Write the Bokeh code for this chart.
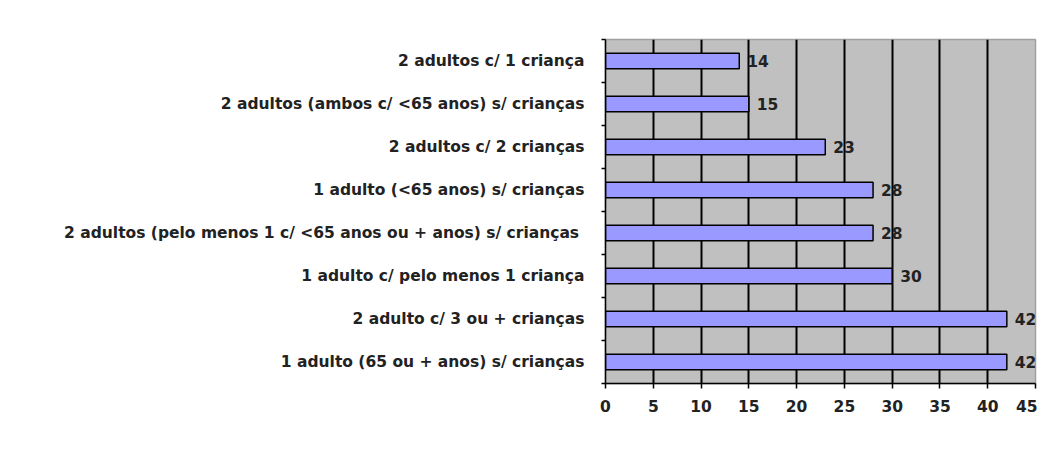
from bokeh.plotting import figure
from bokeh.models import ColumnDataSource, FixedTicker, Label, LabelSet
from bokeh.core.properties import value
from bokeh.embed import file_html
from bokeh.resources import INLINE

categories = [
    "2 adultos c/ 1 criança",
    "2 adultos (ambos c/ <65 anos) s/ crianças",
    "2 adultos c/ 2 crianças",
    "1 adulto (<65 anos) s/ crianças",
    "2 adultos (pelo menos 1  c/ <65 anos ou + anos) s/ crianças",
    "1 adulto c/ pelo menos 1 criança",
    "2 adulto c/ 3 ou + crianças",
    "1 adulto (65 ou + anos) s/ crianças",
]
values = [14, 15, 23, 28, 28, 30, 42, 42]
x_ticks = [0, 5, 10, 15, 20, 25, 30, 35, 40, 45]
title_text = "(%) por tipo de agregado"

n = len(categories)
ypos = [n - i - 0.5 for i in range(n)]
src = ColumnDataSource(dict(y=ypos, v=values, lab=[str(v) for v in values], cat=categories))

FONT = "DejaVu Sans"
FS = "15.5px"
TXT = "#222222"
W, H = 1037, 442
FL, FT, FW, FH = 605, 39, 430, 344   # frame left/top/width/height (canvas px)

p = figure(width=W, height=H, output_backend="svg", toolbar_location=None,
           x_range=(0, 45), y_range=(0, n),
           frame_width=FW, frame_height=FH,
           min_border_left=FL, min_border_right=W - FL - FW, min_border_top=FT,
           min_border_bottom=H - FT - FH)
p.background_fill_color = "#C0C0C0"
p.border_fill_color = "white"
p.outline_line_color = "#A0A0A0"
p.outline_line_width = 1.5

p.hbar(y="y", right="v", left=0, height=0.36, source=src,
       fill_color="#9999FF", line_color="black", line_width=1.5)

labels = LabelSet(x="v", y="y", text="lab", source=src, x_offset=8,
                  text_baseline="middle", text_align="left",
                  text_font=value(FONT), text_font_style="bold", text_font_size=FS,
                  text_color=TXT)
p.add_layout(labels)

# x axis
p.xaxis.ticker = FixedTicker(ticks=x_ticks)
p.xaxis.axis_line_color = "black"
p.xaxis.axis_line_width = 1.5
p.xaxis.major_tick_line_color = "black"
p.xaxis.major_tick_line_width = 1.5
p.xaxis.major_tick_out = 5
p.xaxis.major_tick_in = 0
p.xaxis.minor_tick_line_color = None
p.xaxis.major_label_text_font = FONT
p.xaxis.major_label_text_font_style = "bold"
p.xaxis.major_label_text_font_size = FS
p.xaxis.major_label_text_color = TXT
p.xaxis.major_label_standoff = 11

# y axis
p.yaxis.ticker = FixedTicker(ticks=ypos, minor_ticks=list(range(n + 1)))
p.yaxis.major_label_overrides = {y: c for y, c in zip(ypos, categories)}
p.yaxis.axis_line_color = "black"
p.yaxis.axis_line_width = 1.5
p.yaxis.major_tick_line_color = None
p.yaxis.major_tick_out = 0
p.yaxis.major_tick_in = 0
p.yaxis.minor_tick_line_color = "black"
p.yaxis.minor_tick_line_width = 1.5
p.yaxis.minor_tick_out = 4
p.yaxis.minor_tick_in = 0
p.yaxis.major_label_text_font = FONT
p.yaxis.major_label_text_font_style = "bold"
p.yaxis.major_label_text_font_size = FS
p.yaxis.major_label_text_color = TXT
p.yaxis.major_label_standoff = 17

p.xgrid.grid_line_color = "black"
p.xgrid.grid_line_width = 2
p.ygrid.grid_line_color = None

# title (cut off at top as in original)
p.add_layout(Label(x=432 - FL, y=FH + FT, x_units="screen", y_units="screen", text=title_text,
                   text_font=FONT, text_font_style="bold", text_font_size="17px",
                   text_baseline="alphabetic", text_color=TXT))

open("out.html", "w").write(file_html(p, INLINE))
